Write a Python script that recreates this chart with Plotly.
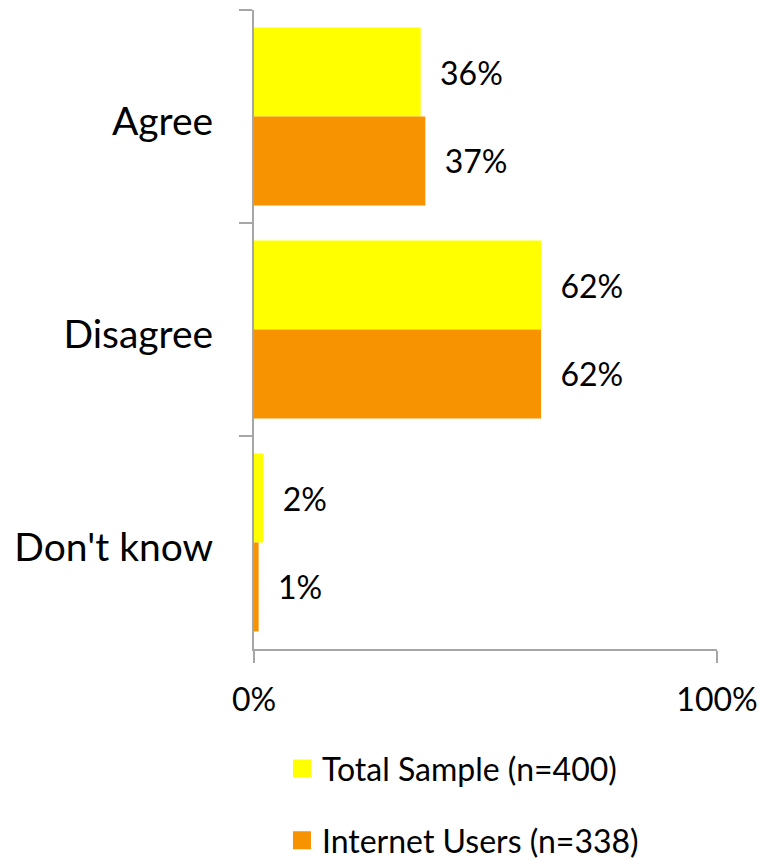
import plotly.graph_objects as go

categories = ["Agree", "Disagree", "Don't know"]
total_sample = [36, 62, 2]
internet_users = [37, 62, 1]
series_names = ["Total Sample (n=400)", "Internet Users (n=338)"]
x_ticks = [0, 100]
x_tick_labels = ["0%", "100%"]

YELLOW = "#FFFF00"
ORANGE = "#F79200"
AXIS_GRAY = "#A6A6A6"
FONT = "Lato"
PAD = "\u00a0\u00a0"

fig = go.Figure()
series = [
    (series_names[0], total_sample, YELLOW, "g1"),
    (series_names[1], internet_users, ORANGE, "g2"),
]
for name, vals, color, grp in series:
    fig.add_trace(go.Bar(
        y=categories,
        x=vals,
        orientation="h",
        name=name,
        legendgroup=grp,
        showlegend=False,
        marker=dict(color=color, line=dict(width=0)),
        text=[f"{PAD}{v}%" for v in vals],
        textposition="outside",
        textfont=dict(family=FONT, size=32, color="#000000"),
        constraintext="none",
        cliponaxis=False,
        hoverinfo="skip",
    ))

# Legend entries with larger square swatches
for name, vals, color, grp in series:
    fig.add_trace(go.Scatter(
        x=[None],
        y=[None],
        mode="markers",
        name=name,
        legendgroup=grp,
        showlegend=True,
        marker=dict(symbol="square", size=16, color=color,
                    line=dict(width=2, color=color)),
        hoverinfo="skip",
    ))

fig.update_layout(
    width=759,
    height=860,
    autosize=False,
    margin=dict(l=254, r=42, t=10, b=211, autoexpand=False),
    paper_bgcolor="white",
    plot_bgcolor="white",
    barmode="group",
    bargap=0.165,
    bargroupgap=0,
    font=dict(family=FONT, color="#000000"),
    showlegend=True,
    legend=dict(
        orientation="v",
        xref="container",
        yref="container",
        x=0.3715,
        xanchor="left",
        y=0.138,
        yanchor="top",
        traceorder="grouped",
        tracegroupgap=27,
        font=dict(family=FONT, size=32, color="#000000"),
        bgcolor="rgba(0,0,0,0)",
    ),
)

fig.update_xaxes(
    range=[0, 100],
    tickvals=x_ticks,
    ticktext=x_tick_labels,
    showgrid=True,
    gridcolor=AXIS_GRAY,
    gridwidth=2,
    zeroline=False,
    showline=True,
    linecolor=AXIS_GRAY,
    linewidth=2,
    ticks="outside",
    ticklen=12,
    tickwidth=2,
    tickcolor=AXIS_GRAY,
    tickfont=dict(family=FONT, size=32, color="#000000"),
    ticklabelstandoff=10,
    automargin=False,
    fixedrange=True,
)

fig.update_yaxes(
    autorange="reversed",
    categoryorder="array",
    categoryarray=categories,
    showgrid=False,
    zeroline=False,
    showline=True,
    linecolor=AXIS_GRAY,
    linewidth=2,
    ticks="outside",
    tickson="boundaries",
    ticklen=13,
    tickwidth=2,
    tickcolor=AXIS_GRAY,
    tickfont=dict(family=FONT, size=39, color="#000000"),
    ticklabelstandoff=31,
    ticklabelshift=-5,
    automargin=False,
    fixedrange=True,
)

fig.write_html("out.html")
